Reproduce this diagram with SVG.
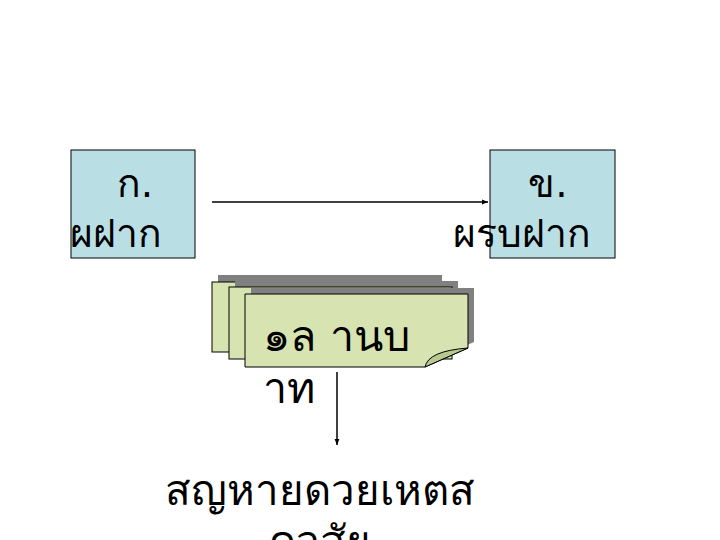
<svg xmlns="http://www.w3.org/2000/svg" width="720" height="540" viewBox="0 0 720 540">
<defs>
<style>
.box{fill:#b9dfe4;stroke:#000;stroke-width:1}
.pg{fill:#d7e4b1;stroke:#000;stroke-width:1}
.sh{fill:#808080}
.t{font-family:"DejaVu Sans","Noto Sans",sans-serif;font-size:39px;fill:#000}
.d{font-size:43px}
.c{stroke:#000;stroke-width:1.5;fill:none}
</style>
<marker id="ah" viewBox="0 0 10 10" refX="10" refY="5" markerWidth="6" markerHeight="6" orient="auto" markerUnits="userSpaceOnUse">
<path d="M0,1 L10,5 L0,9 Z" fill="#000"/>
</marker>
</defs>
<rect width="720" height="540" fill="#fff"/>
<g id="nodeA">
<rect class="box" x="71" y="150" width="124" height="108"/>
<text class="t" x="135" y="197" text-anchor="middle">ก.</text>
<text class="t" x="70" y="247">ผฝาก</text>
</g>
<g id="nodeB">
<rect class="box" x="490" y="150" width="125" height="108"/>
<text class="t" x="548" y="197" text-anchor="middle">ข.</text>
<text class="t" x="453" y="247">ผรบฝาก</text>
</g>
<g id="docs">
<rect class="sh" x="218" y="275" width="224" height="70"/>
<rect class="pg" x="212" y="282" width="224" height="70"/>
<rect class="sh" x="235" y="281" width="223" height="72"/>
<rect class="pg" x="229" y="287" width="223" height="72"/>
<path class="sh" d="M251,288 H474 V342 L431,361 H251 Z"/>
<path class="pg" d="M245,294 H468 V348 L425,367 H245 Z"/>
<path d="M425,367 Q428,351 468,348 L425,367 Z" fill="#b9c890" stroke="#000" stroke-width="1"/>
<text class="t d" x="263" y="351">๑ล านบ</text>
<text class="t d" x="263" y="403">าท</text>
</g>
<g id="connectors">
<line class="c" x1="212" y1="202" x2="488" y2="202" marker-end="url(#ah)"/>
<line class="c" x1="337" y1="372" x2="337" y2="445" stroke-width="1" marker-end="url(#ah)"/>
</g>
<g id="label">
<text class="t" x="320" y="505" text-anchor="middle" style="font-size:42px">สญหายดวยเหตส</text>
<text class="t" x="320" y="556" text-anchor="middle" style="font-size:42px">ดวสัย</text>
</g>
</svg>
